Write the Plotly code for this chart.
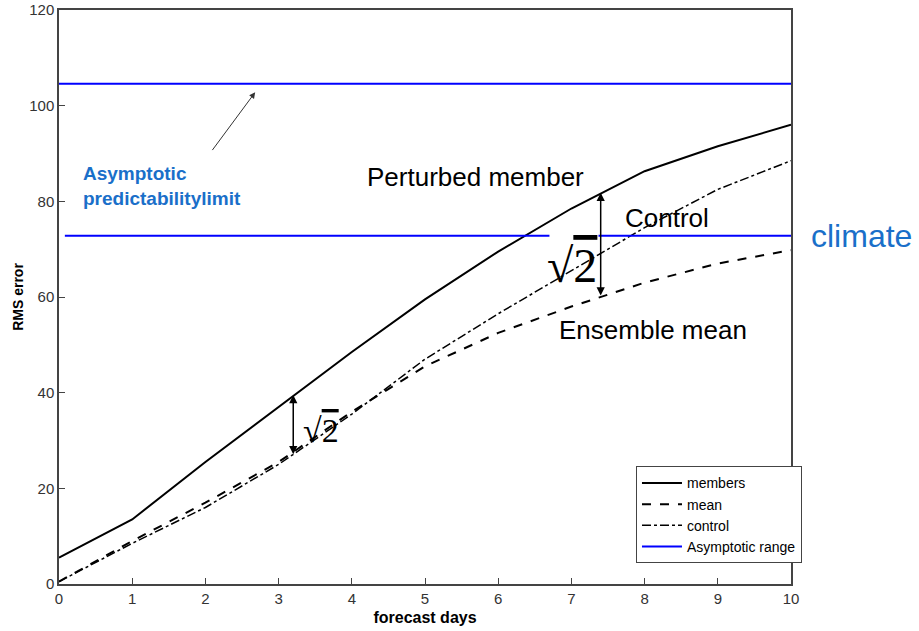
import plotly.graph_objects as go

days = [0, 1, 2, 3, 4, 5, 6, 7, 8, 9, 10]
members = [5.5, 13.5, 25.5, 37.0, 48.5, 59.5, 69.5, 78.5, 86.3, 91.5, 96.0]
mean = [0.5, 9.0, 17.0, 25.5, 36.0, 45.5, 52.5, 58.0, 63.0, 67.0, 69.8]
control = [0.5, 8.5, 16.0, 25.0, 35.5, 47.0, 56.5, 65.5, 74.5, 82.5, 88.5]

limit_x = [0, 10]
limit_y = [104.6, 104.6]
climate_left_x = [0.08, 6.7]
climate_right_x = [7.37, 10]
climate_y = 72.8

blue = '#0000ff'
text_blue = '#1a6fc9'
narrow = 'Liberation Sans Narrow, Arial Narrow, Arial, sans-serif'
sans = 'Arial, Liberation Sans, sans-serif'
serif = 'Liberation Serif, Times New Roman, serif'

fig = go.Figure()
fig.add_trace(go.Scatter(x=days, y=members, mode='lines', name='members',
                         line=dict(color='black', width=2)))
fig.add_trace(go.Scatter(x=days, y=mean, mode='lines', name='mean',
                         line=dict(color='black', width=2, dash='dash')))
fig.add_trace(go.Scatter(x=days, y=control, mode='lines', name='control',
                         line=dict(color='black', width=1.5, dash='dashdot')))
fig.add_trace(go.Scatter(x=limit_x, y=limit_y, mode='lines', name='Asymptotic range',
                         line=dict(color=blue, width=2)))
fig.add_trace(go.Scatter(x=climate_left_x, y=[climate_y] * 2, mode='lines',
                         showlegend=False, line=dict(color=blue, width=2)))
fig.add_trace(go.Scatter(x=climate_right_x, y=[climate_y] * 2, mode='lines',
                         showlegend=False, line=dict(color=blue, width=2)))

def spread_arrow(x, y0, y1):
    fig.add_annotation(x=x, y=y1, ax=x, ay=y0, xref='x', yref='y', axref='x', ayref='y',
                       showarrow=True, arrowhead=2, startarrowhead=2, arrowside='end+start',
                       arrowsize=1.1, arrowwidth=1.5, arrowcolor='black', text='')

spread_arrow(3.2, 26.8, 39.5)
spread_arrow(7.4, 60.0, 81.8)

# arrow to the asymptotic limit
fig.add_annotation(x=2.68, y=102.8, ax=2.08, ay=90.4, xref='x', yref='y', axref='x', ayref='y',
                   showarrow=True, arrowhead=2, arrowsize=1.2, arrowwidth=1,
                   arrowcolor='#333333', text='')

sqrt2 = "√<span style='text-decoration:overline'>2</span>"
fig.add_annotation(x=3.3, y=32.0, text=sqrt2, showarrow=False, xanchor='left',
                   font=dict(family=serif, size=34, color='black'))
fig.add_annotation(x=7.38, y=66.5, text=sqrt2, showarrow=False, xanchor='right',
                   font=dict(family=serif, size=48, color='black'))

labels = [
    (4.18, 85.0, 'Perturbed member'),
    (7.7, 76.5, 'Control'),
    (6.8, 53.2, 'Ensemble mean'),
]
for x, y, t in labels:
    fig.add_annotation(x=x, y=y, text=t, showarrow=False, xanchor='left',
                       font=dict(family=sans, size=26, color='black'))

fig.add_annotation(x=0.3, y=83.2, text='<b>Asymptotic<br>predictabilitylimit</b>', showarrow=False,
                   xanchor='left', align='left',
                   font=dict(family=sans, size=19, color=text_blue))
fig.add_annotation(x=1.025, y=climate_y, xref='paper', yref='y', text='climate', showarrow=False,
                   xanchor='left',
                   font=dict(family=sans, size=32, color=text_blue))

axis_style = dict(showline=True, mirror=True, linecolor='#444444', linewidth=1.5,
                  ticks='inside', ticklen=6, tickcolor='#444444', showgrid=False, zeroline=False,
                  automargin=False,
                  tickfont=dict(family=narrow, size=15, color='#333333'))

fig.update_xaxes(range=[0, 10], dtick=1,
                 title=dict(text='<b>forecast days</b>', standoff=6,
                            font=dict(family=narrow, size=16, color='black')),
                 **axis_style)
fig.update_yaxes(range=[0, 120], dtick=20,
                 title=dict(text='<b>RMS error</b>', standoff=2,
                            font=dict(family=sans, size=14, color='black')),
                 **axis_style)

fig.update_layout(
    width=919, height=631,
    margin=dict(l=59, r=128, t=10, b=47, autoexpand=False),
    plot_bgcolor='white', paper_bgcolor='white',
    legend=dict(x=1.015, xanchor='right', y=0.036, yanchor='bottom',
                bgcolor='white', bordercolor='#444444', borderwidth=1,
                font=dict(family=narrow, size=14, color='black'),
                tracegroupgap=0, itemwidth=40),
)

fig.write_html("out.html", config={'displayModeBar': False},
               post_script="document.body.style.margin='0';")
